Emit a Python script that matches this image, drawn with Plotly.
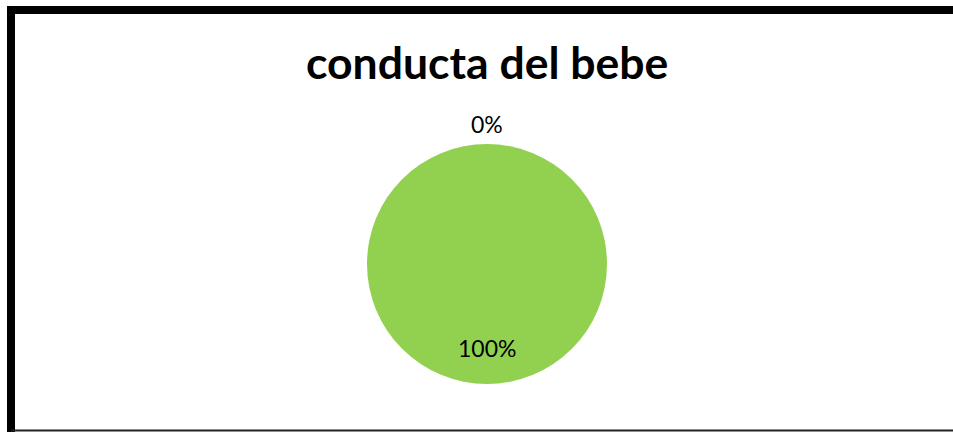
import plotly.graph_objects as go

W, H = 953, 432
title_text = "conducta del bebe"
categories = ["No", "Sí"]
values = [0, 100]
colors = ["#4472C4", "#92D050"]

def px(x):
    return x / W

def py(y):
    return 1 - y / H

total = sum(values)
pcts = [round(v / total * 100) for v in values]

fig = go.Figure()
fig.add_trace(go.Pie(
    labels=categories,
    values=values,
    marker=dict(colors=colors, line=dict(width=0)),
    textinfo="none",
    sort=False,
    direction="clockwise",
    showlegend=False,
    hoverinfo="label+percent",
    domain=dict(x=[px(367), px(607)], y=[py(384), py(144)]),
))

label_pos = [(487, 124), (487, 348)]
for p, (x, y) in zip(pcts, label_pos):
    fig.add_annotation(
        x=px(x), y=py(y), xref="paper", yref="paper",
        text=f"{p}%", showarrow=False,
        font=dict(family="Lato, Open Sans, sans-serif", size=23, color="#000000"),
        xanchor="center", yanchor="middle",
    )

fig.add_annotation(
    x=px(487), y=py(62), xref="paper", yref="paper",
    text=f"<b>{title_text}</b>", showarrow=False,
    font=dict(family="Lato, Open Sans, sans-serif", size=44.5, color="#000000"),
    xanchor="center", yanchor="middle",
)

# chart frame
fig.add_shape(type="path", xref="paper", yref="paper",
              path=f"M {px(11)},{py(440)} L {px(11)},{py(10)} L {px(970)},{py(10)}",
              line=dict(color="#000000", width=8))
fig.add_shape(type="line", xref="paper", yref="paper",
              x0=px(11), x1=px(960), y0=py(430.5), y1=py(430.5),
              line=dict(color="#222222", width=2))

fig.update_layout(
    width=W, height=H,
    margin=dict(l=0, r=0, t=0, b=0),
    paper_bgcolor="white",
    plot_bgcolor="white",
)

fig.write_html("out.html")
